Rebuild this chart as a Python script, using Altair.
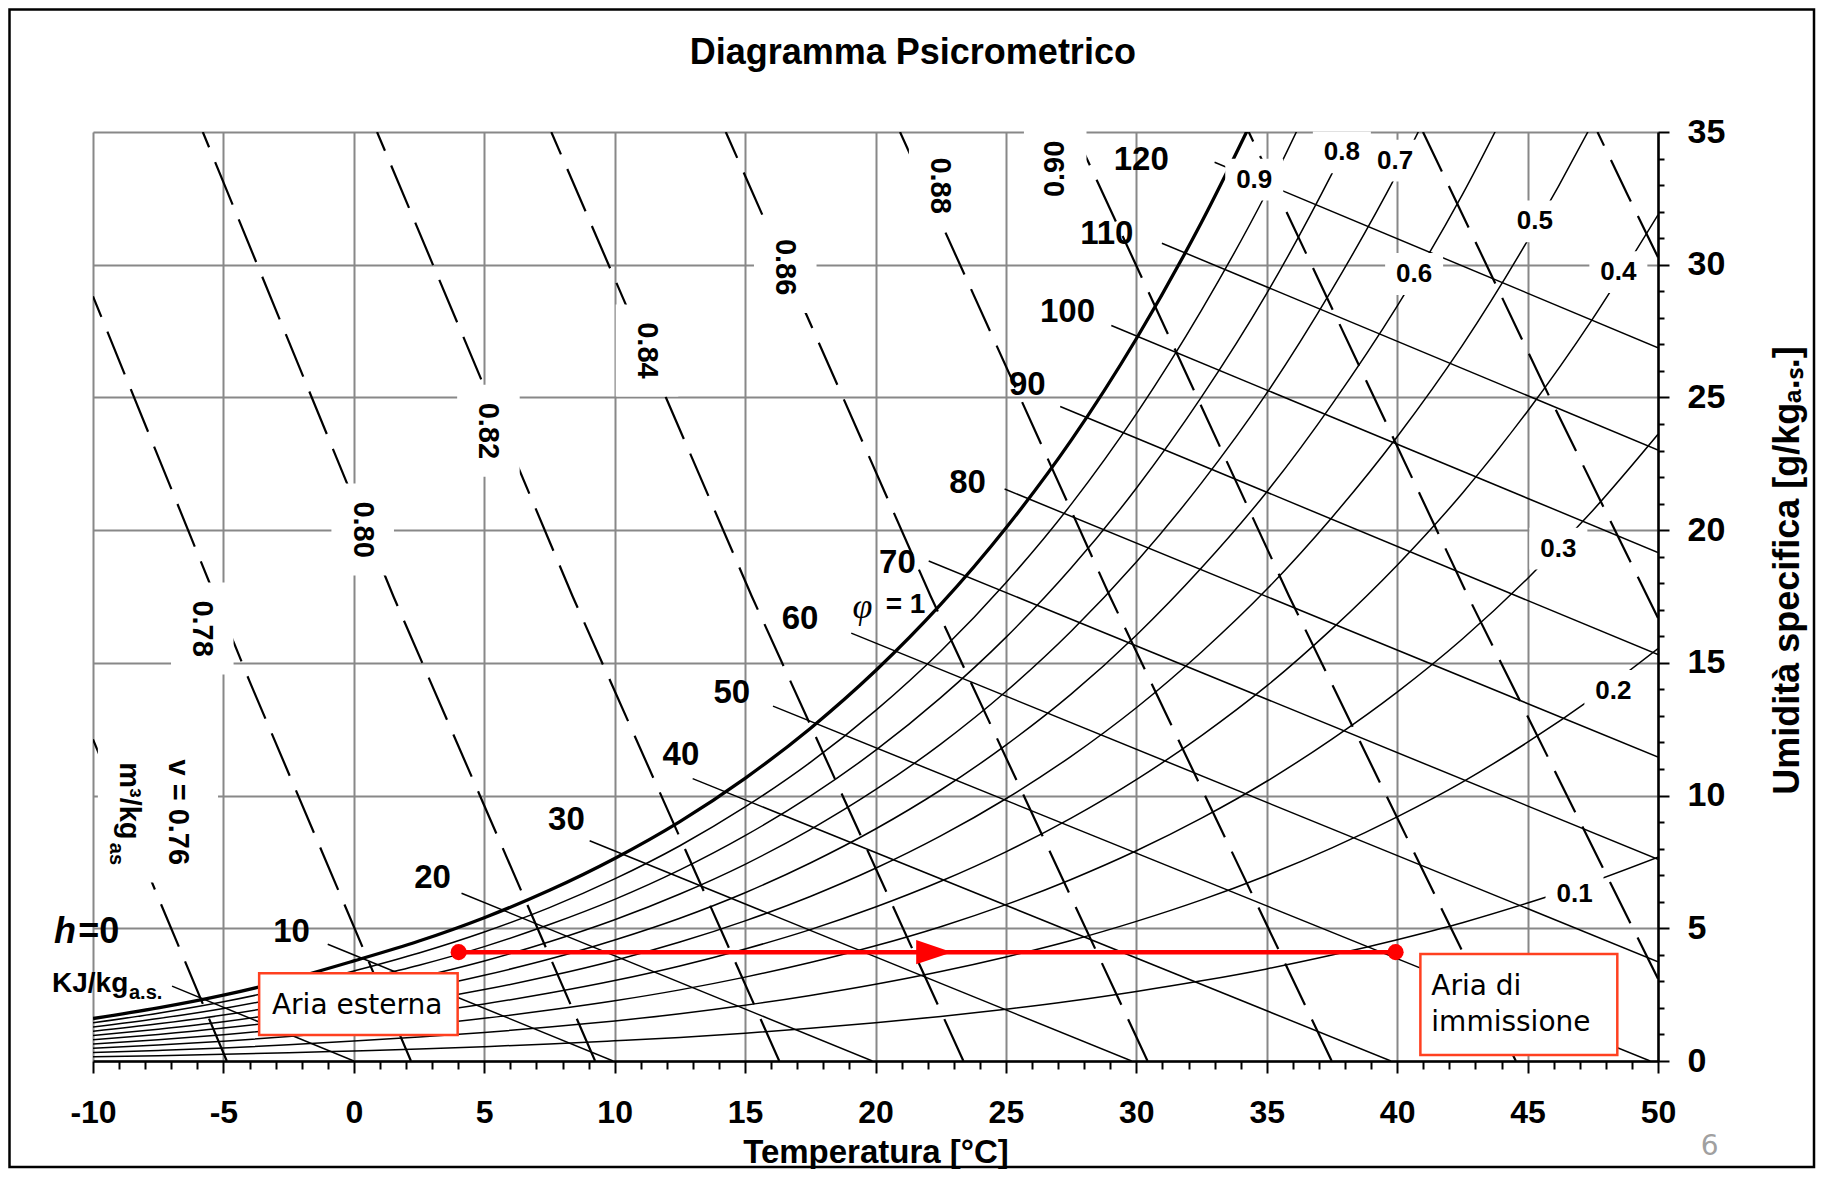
import altair as alt
import pandas as pd

# ---------------- data ----------------
T_GRID = [-10, -7.5, -5, -2.5, 0, 2.5, 5, 7.5, 10, 12.5, 15, 17.5, 20, 22.5, 25,
          27.5, 30, 32.5, 35, 37.5, 40, 42.5, 45, 47.5, 50]

PHI_100 = [1.60, 2.00, 2.48, 3.07, 3.77, 4.52, 5.40, 6.43, 7.63, 9.02, 10.65, 12.53, 14.70,
           17.20, 20.08, 23.38, 27.21, 31.60, 36.58]
PHI_90 = [1.44, 1.80, 2.23, 2.76, 3.39, 4.07, 4.86, 5.78, 6.86, 8.11, 9.57, 11.25, 13.20,
          15.44, 18.02, 20.97, 24.38, 28.29, 32.73, 37.86]
PHI_80 = [1.28, 1.60, 1.98, 2.45, 3.02, 3.61, 4.31, 5.14, 6.09, 7.20, 8.49, 9.98, 11.70,
          13.69, 15.96, 18.57, 21.58, 25.02, 28.92, 33.43, 38.51]
PHI_70 = [1.12, 1.40, 1.73, 2.14, 2.64, 3.16, 3.77, 4.49, 5.32, 6.29, 7.41, 8.72, 10.22,
          11.94, 13.92, 16.19, 18.80, 21.78, 25.16, 29.06, 33.44, 38.42]
PHI_60 = [0.96, 1.20, 1.48, 1.84, 2.26, 2.70, 3.23, 3.84, 4.56, 5.38, 6.34, 7.46, 8.74,
          10.21, 11.90, 13.82, 16.04, 18.58, 21.44, 24.74, 28.44, 32.64, 37.46]
PHI_50 = [0.80, 1.00, 1.24, 1.53, 1.88, 2.25, 2.69, 3.20, 3.79, 4.48, 5.28, 6.20, 7.26,
          8.48, 9.88, 11.48, 13.31, 15.41, 17.77, 20.48, 23.52, 26.96, 30.91, 35.36, 40.37]
PHI_40 = [0.64, 0.80, 0.99, 1.22, 1.50, 1.80, 2.15, 2.56, 3.03, 3.58, 4.22, 4.95, 5.80,
          6.77, 7.88, 9.15, 10.60, 12.26, 14.13, 16.28, 18.68, 21.39, 24.48, 27.97, 31.88]
PHI_30 = [0.48, 0.60, 0.74, 0.92, 1.13, 1.35, 1.61, 1.92, 2.27, 2.68, 3.16, 3.71, 4.34,
          5.06, 5.89, 6.84, 7.92, 9.15, 10.54, 12.13, 13.90, 15.90, 18.18, 20.74, 23.61]
PHI_20 = [0.32, 0.40, 0.49, 0.61, 0.75, 0.90, 1.07, 1.28, 1.51, 1.78, 2.10, 2.47, 2.89,
          3.37, 3.92, 4.54, 5.26, 6.07, 6.99, 8.03, 9.20, 10.51, 12.01, 13.68, 15.54]
PHI_10 = [0.16, 0.20, 0.25, 0.31, 0.38, 0.45, 0.54, 0.64, 0.76, 0.89, 1.05, 1.23, 1.44,
          1.68, 1.95, 2.26, 2.62, 3.02, 3.47, 3.99, 4.57, 5.21, 5.95, 6.76, 7.68]
PHI_LEVELS = [0.9, 0.8, 0.7, 0.6, 0.5, 0.4, 0.3, 0.2, 0.1]
PHI_CURVES = [PHI_90, PHI_80, PHI_70, PHI_60, PHI_50, PHI_40, PHI_30, PHI_20, PHI_10]

PHI_LABELS = ["0.9", "0.8", "0.7", "0.6", "0.5", "0.4", "0.3", "0.2", "0.1"]
PHI_LABEL_T = [34.52, 37.88, 39.92, 40.65, 45.28, 48.48, 46.18, 48.29, 46.80]
PHI_LABEL_W = [33.21, 34.23, 33.92, 29.65, 31.63, 29.72, 19.30, 13.94, 6.31]

# enthalpy lines (kJ/kg): start and end points
H_VALUES = [0, 10, 20, 30, 40, 50, 60, 70, 80, 90, 100, 110, 120]
H_T_START = [-6.97, -1.00, 4.13, 9.04, 12.99, 16.07, 19.07, 22.04, 24.95, 27.08, 29.04, 30.98, 33.00]
H_W_START = [2.82, 4.40, 6.32, 8.30, 10.64, 13.37, 16.12, 18.84, 21.55, 24.66, 27.71, 30.81, 33.86]
H_T_END = [0.0, 9.94, 19.88, 29.82, 39.76, 49.70, 50, 50, 50, 50, 50, 50, 50]
H_W_END = [0, 0, 0, 0, 0, 0, 3.74, 7.60, 11.45, 15.31, 19.16, 23.02, 26.87]
H_LABELS = ["10", "20", "30", "40", "50", "60", "70", "80", "90", "100", "110", "120"]
H_LABEL_T = [-2.39, 3.02, 8.15, 12.54, 14.49, 17.11, 20.84, 23.53, 25.82, 27.36, 28.87, 30.19]
H_LABEL_W = [4.87, 6.88, 9.07, 11.53, 13.85, 16.64, 18.77, 21.77, 25.46, 28.22, 31.17, 33.94]

# specific volume lines (m3/kg), dashed
V_VALUES = [0.76, 0.78, 0.80, 0.82, 0.84, 0.86, 0.88, 0.90, 0.92, 0.94, 0.96]
V_T = [[-4.87, -7.5, -10], [2.19, -4.0, -10], [9.25, 1.52, -5.79], [16.31, 8.39, 0.89],
       [23.37, 15.26, 7.57], [30.43, 22.12, 14.26], [37.49, 28.99, 20.94],
       [44.55, 35.86, 27.63], [50, 42.72, 34.31], [50, 45.85, 40.99], [50, 48.85, 47.68]]
V_W = [[0, 6.16, 12.12], [0, 14.31, 28.81], [0, 17.5, 35], [0, 17.5, 35], [0, 17.5, 35],
       [0, 17.5, 35], [0, 17.5, 35], [0, 17.5, 35], [3.10, 17.5, 35], [16.69, 25, 35],
       [30.28, 32.6, 35]]
V_LABELS = ["0.78", "0.80", "0.82", "0.84", "0.86", "0.88", "0.90"]
V_LABEL_T = [-5.81, 0.34, 5.16, 11.24, 16.54, 22.48, 26.89]
V_LABEL_W = [16.29, 20.02, 23.74, 26.77, 29.91, 32.98, 33.61]
V_LABEL_ANGLE = [90, 90, 90, 90, 90, 90, 270]

# process: outside air -> supply air
PROC_T = [4.02, 39.94]
PROC_W = [4.10, 4.10]
ARROW_T = [22.25]
ARROW_W = [4.10]
BOX_T1 = [-3.63, 40.89]
BOX_T2 = [3.98, 48.44]
BOX_W1 = [0.98, 0.23]
BOX_W2 = [3.31, 4.03]
BOX_TEXT = ["Aria esterna", "Aria di", "immissione"]
BOX_TEXT_T = [-3.14, 41.31, 41.31]
BOX_TEXT_W = [2.07, 2.80, 1.43]

TITLE = "Diagramma Psicrometrico"
TITLE_T = [21.43]
TITLE_W = [37.55]

# ---------------- tables ----------------
sat_df = pd.DataFrame({"T": T_GRID[:len(PHI_100)], "W": PHI_100, "i": range(len(PHI_100))})
rows = []
for phi, ws in zip(PHI_LEVELS, PHI_CURVES):
    for i, (t, w) in enumerate(zip(T_GRID, ws)):
        rows.append({"phi": phi, "T": t, "W": w, "i": i})
phi_df = pd.DataFrame(rows)

rows = []
for h, t1, w1, t2, w2 in zip(H_VALUES, H_T_START, H_W_START, H_T_END, H_W_END):
    rows.append({"h": h, "T": t1, "W": w1, "i": 0})
    rows.append({"h": h, "T": t2, "W": w2, "i": 1})
h_df = pd.DataFrame(rows)

rows = []
for v, ts, ws in zip(V_VALUES, V_T, V_W):
    for i, (t, w) in enumerate(zip(ts, ws)):
        rows.append({"v": v, "T": t, "W": w, "i": i})
v_df = pd.DataFrame(rows)

phi_lab_df = pd.DataFrame({"label": PHI_LABELS, "T": PHI_LABEL_T, "W": PHI_LABEL_W})
h_lab_df = pd.DataFrame({"label": H_LABELS, "T": H_LABEL_T, "W": H_LABEL_W})
v_lab_df = pd.DataFrame({"label": V_LABELS, "T": V_LABEL_T, "W": V_LABEL_W, "angle": V_LABEL_ANGLE})
proc_df = pd.DataFrame({"T": PROC_T, "W": PROC_W})
arrow_df = pd.DataFrame({"T": ARROW_T, "W": ARROW_W})
box_df = pd.DataFrame({"T1": BOX_T1, "T2": BOX_T2, "W1": BOX_W1, "W2": BOX_W2})
box_text_df = pd.DataFrame({"label": BOX_TEXT, "T": BOX_TEXT_T, "W": BOX_TEXT_W})

# ---------------- scales & axes ----------------
XS = alt.Scale(domain=[-10, 50], nice=False, zero=False)
YS = alt.Scale(domain=[0, 35], nice=False, zero=False)
MAJ = "datum.value % 5 === 0"

XAX = alt.Axis(
    orient="bottom", values=list(range(-10, 51)),
    labelExpr=f"{MAJ} ? '' + datum.value : ''",
    labelFont="Liberation Sans", labelFontSize=32, labelFontWeight="bold", labelColor="black",
    labelFlush=False, labelOverlap=False, labelPadding=24,
    tickSize={"condition": {"test": MAJ, "value": 12}, "value": 8},
    tickColor="black", tickWidth=2, domainColor="black", domainWidth=2.5,
    grid=True, gridColor="#888888", gridWidth=2,
    gridOpacity={"condition": {"test": MAJ, "value": 1}, "value": 0},
    title="Temperatura [°C]", titleFont="Liberation Sans", titleFontSize=33,
    titleFontWeight="bold", titleColor="black", titleX=782.5, titleY=101,
    titleBaseline="alphabetic", titleAlign="center",
)
YAX = alt.Axis(
    orient="right", values=list(range(0, 36)),
    labelExpr=f"{MAJ} ? '' + datum.value : ''",
    labelFont="Liberation Sans", labelFontSize=34, labelFontWeight="bold", labelColor="black",
    labelFlush=False, labelOverlap=False, labelPadding=18,
    tickSize={"condition": {"test": MAJ, "value": 11}, "value": 6},
    tickColor="black", tickWidth=2, domainColor="black", domainWidth=2.5,
    grid=True, gridColor="#888888", gridWidth=2,
    gridOpacity={"condition": {"test": MAJ, "value": 1}, "value": 0},
    title="Umidità specifica [g/kgₐ.ₛ.]", titleFont="Liberation Sans", titleFontSize=36,
    titleFontWeight="bold", titleColor="black", titleAngle=270, titleX=140, titleY=438,
    titleBaseline="alphabetic", titleAlign="center",
)


def X(field="T"):
    return alt.X(f"{field}:Q", scale=XS, axis=XAX)


def Y(field="W"):
    return alt.Y(f"{field}:Q", scale=YS, axis=YAX)


def txt(label, t, w, **kw):
    return alt.Chart(pd.DataFrame({"label": [label], "T": [t], "W": [w]})).mark_text(
        color="black", **kw).encode(x=X(), y=Y(), text="label:N")


# ---------------- layers ----------------
sat = alt.Chart(sat_df).mark_line(color="black", strokeWidth=3.3, interpolate="monotone", clip=True).encode(
    x=X(), y=Y(), order="i:Q")
phis = alt.Chart(phi_df).mark_line(color="black", strokeWidth=1.5, interpolate="monotone", clip=True).encode(
    x=X(), y=Y(), detail="phi:N", order="i:Q")
hlines = alt.Chart(h_df).mark_line(color="black", strokeWidth=1.5, clip=True).encode(
    x=X(), y=Y(), detail="h:N", order="i:Q")
vlines = alt.Chart(v_df).mark_line(color="black", strokeWidth=2.2, strokeDash=[46, 16], clip=True).encode(
    x=X(), y=Y(), detail="v:N", order="i:Q")

phi_bg = alt.Chart(phi_lab_df).mark_point(shape="M-1,-0.72H1V0.72H-1Z", size=3364, filled=True,
                                          color="white", opacity=1, strokeWidth=0).encode(x=X(), y=Y())
v_bg = alt.Chart(v_lab_df).mark_point(shape="M-0.68,-1H0.68V1H-0.68Z", size=8464, filled=True,
                                      color="white", opacity=1, strokeWidth=0).encode(x=X(), y=Y())
v76_bg = alt.Chart(pd.DataFrame({"T": [-7.51], "W": [9.27]})).mark_point(
    shape="M-0.89,-1H0.89V1H-0.89Z", size=18225, filled=True, color="white", opacity=1,
    strokeWidth=0).encode(x=X(), y=Y())

phi_txt = alt.Chart(phi_lab_df).mark_text(font="Liberation Sans", fontSize=26, fontWeight="bold",
                                          color="black").encode(x=X(), y=Y(), text="label:N")
h_txt = alt.Chart(h_lab_df).mark_text(font="Liberation Sans", fontSize=33, fontWeight="bold",
                                      color="black").encode(x=X(), y=Y(), text="label:N")
v_txt = alt.Chart(v_lab_df).mark_text(font="Liberation Sans", fontSize=29, fontWeight="bold",
                                      color="black").encode(x=X(), y=Y(), text="label:N",
                                                            angle=alt.Angle("angle:Q", scale=None))
v76_txt = txt("v = 0.76", -6.73, 9.37, font="Liberation Sans", fontSize=29, fontWeight="bold", angle=90)
unit_txt = txt("m³/kg", -8.61, 9.80, font="Liberation Sans", fontSize=29, fontWeight="bold", angle=90)
unit_sub = txt("as", -9.12, 7.80, font="Liberation Sans", fontSize=20, fontWeight="bold", angle=90)

h0_h = txt("h", -10.65, 4.87, font="Liberation Sans", fontSize=36, fontWeight="bold",
           fontStyle="italic", align="right")
h0_eq = txt("=0", -10.57, 4.87, font="Liberation Sans", fontSize=36, fontWeight="bold", align="left")
kj_txt = txt("KJ/kg", -11.57, 2.90, font="Liberation Sans", fontSize=28, fontWeight="bold", align="left")
kj_sub = txt("a.s.", -8.62, 2.55, font="Liberation Sans", fontSize=20, fontWeight="bold", align="left")
phi1_sym = txt("φ", 19.50, 17.10, font="Liberation Serif", fontSize=36, fontStyle="italic")
phi1_eq = txt("= 1", 20.39, 17.17, font="Liberation Sans", fontSize=28, fontWeight="bold", align="left")

proc_line = alt.Chart(proc_df).mark_line(color="#ff0000", strokeWidth=4.5).encode(x=X(), y=Y())
proc_pts = alt.Chart(proc_df).mark_point(shape="circle", size=260, filled=True, color="#ff0000",
                                         opacity=1).encode(x=X(), y=Y())
proc_arrow = alt.Chart(arrow_df).mark_point(shape="M-1,-0.67L1,0L-1,0.67Z", size=1300, filled=True,
                                            color="#ff0000", opacity=1).encode(x=X(), y=Y())
boxes = alt.Chart(box_df).mark_rect(fill="white", stroke="#ff4020", strokeWidth=2.5).encode(
    x=X("T1"), x2="T2:Q", y=Y("W1"), y2="W2:Q")
box_txt = alt.Chart(box_text_df).mark_text(font="DejaVu Sans", fontSize=28, color="black",
                                           align="left").encode(x=X(), y=Y(), text="label:N")

title_txt = txt(TITLE, TITLE_T[0], TITLE_W[0], font="Liberation Sans", fontSize=36, fontWeight="bold",
                align="center", baseline="alphabetic")
page_no = alt.Chart(pd.DataFrame({"label": ["6"], "T": [51.98], "W": [-3.24]})).mark_text(
    font="DejaVu Sans", fontSize=28, color="#a0a0a0").encode(x=X(), y=Y(), text="label:N")
frame = alt.Chart(pd.DataFrame({"a": [0]})).mark_rect(fillOpacity=0, stroke="black", strokeWidth=2.5).encode(
    x=alt.value(-83.5), x2=alt.value(1721), y=alt.value(-122.5), y2=alt.value(1035))

chart = alt.layer(
    phis, sat, hlines, vlines,
    phi_bg, v_bg, v76_bg,
    phi_txt, h_txt, v_txt, v76_txt, unit_txt, unit_sub, h0_h, h0_eq, kj_txt, kj_sub, phi1_sym, phi1_eq,
    proc_line, proc_arrow, proc_pts, boxes, box_txt, title_txt, page_no, frame,
).properties(
    width=1565, height=929,
    autosize=alt.AutoSizeParams(type="none"),
    padding={"left": 85, "top": 124, "right": 158, "bottom": 108},
).configure_view(stroke=None).configure(background="white")

chart.save("out.html", embed_options={"renderer": "svg", "actions": False})
